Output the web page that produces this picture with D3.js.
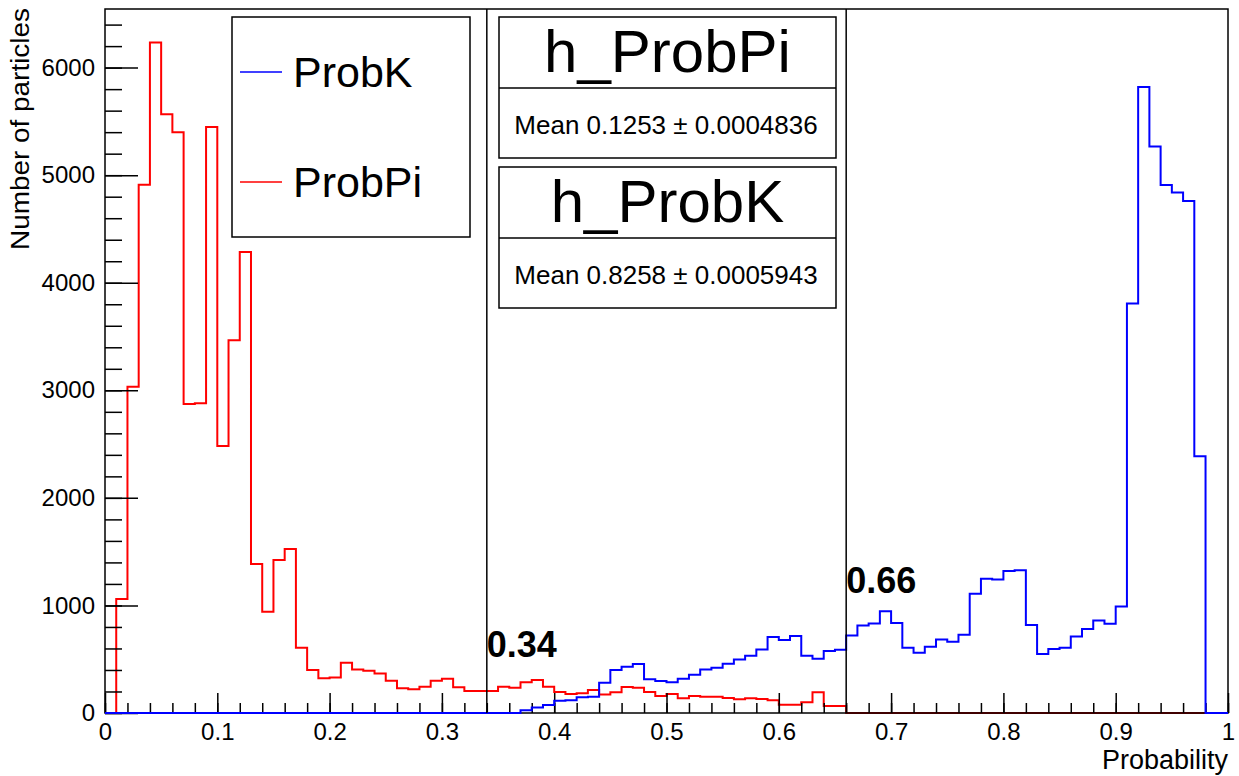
<!DOCTYPE html>
<html>
<head>
<meta charset="utf-8">
<script src="https://cdn.jsdelivr.net/npm/d3@7"></script>
<style>
  html, body { margin: 0; padding: 0; background: #fff; }
  svg { display: block; font-family: "Liberation Sans", Arial, Helvetica, sans-serif; }
</style>
</head>
<body>
<svg id="chart" width="1239" height="776"></svg>
<script>
// Histogram binning: 100 bins of width 0.01 on [0, 1]
const binLow = 0, binHigh = 1, nBins = 100;

// Bin contents of h_ProbPi (pion probability), bins 0..99
const probPi = [
  0, 1060, 3034, 4912, 6233, 5566, 5399, 2873, 2879, 5449,
  2483, 3465, 4286, 1385, 942, 1423, 1525, 607, 399, 322,
  331, 467, 405, 393, 368, 300, 229, 220, 244, 300,
  318, 239, 204, 204, 204, 244, 235, 287, 306, 244,
  195, 176, 183, 214, 173, 192, 241, 235, 195, 158,
  176, 136, 158, 152, 152, 139, 127, 136, 130, 118,
  77, 77, 99, 192, 65, 65, 0, 0, 0, 0,
  0, 0, 0, 0, 0, 0, 0, 0, 0, 0,
  0, 0, 0, 0, 0, 0, 0, 0, 0, 0,
  0, 0, 0, 0, 0, 0, 0, 0, 0, 0
];

// Bin contents of h_ProbK (kaon probability), bins 0..99
const probK = [
  0, 0, 0, 0, 0, 0, 0, 0, 0, 0,
  0, 0, 0, 0, 0, 0, 0, 0, 0, 0,
  0, 0, 0, 0, 0, 0, 0, 0, 0, 0,
  0, 0, 0, 0, 0, 0, 0, 25, 50, 74,
  115, 118, 146, 152, 282, 399, 430, 455, 313, 297,
  285, 319, 356, 405, 421, 458, 498, 532, 591, 706,
  678, 715, 532, 504, 576, 588, 721, 814, 833, 947,
  836, 606, 560, 616, 684, 662, 727, 1108, 1247, 1241,
  1321, 1328, 818, 548, 594, 606, 712, 782, 861, 829,
  990, 3807, 5821, 5266, 4909, 4838, 4760, 2386, 0, 0
];

// Legend entries and statistics boxes
const legendNames = ["ProbK", "ProbPi"];
const legendColors = ["#0000ff", "#ff0000"];
const statsNames = ["h_ProbPi", "h_ProbK"];
const statsMeans = ["0.1253", "0.8258"];
const statsErrors = ["0.0004836", "0.0005943"];

// Cut lines on the probability axis
const cutValues = [0.34, 0.66];
const cutLabels = ["0.34", "0.66"];
const cutLabelHeights = [520, 1113];

// Axis ticks
const xMajorTicks = [0, 0.1, 0.2, 0.3, 0.4, 0.5, 0.6, 0.7, 0.8, 0.9, 1];
const xTickLabels = ["0", "0.1", "0.2", "0.3", "0.4", "0.5", "0.6", "0.7", "0.8", "0.9", "1"];
const yMajorTicks = [0, 1000, 2000, 3000, 4000, 5000, 6000];
const yTickLabels = ["0", "1000", "2000", "3000", "4000", "5000", "6000"];
const yMax = 6545;

const svg = d3.select("#chart");
const frameL = 105, frameR = 1228, frameT = 9, frameB = 713;

const x = d3.scaleLinear().domain([binLow, binHigh]).range([frameL, frameR]);
const y = d3.scaleLinear().domain([0, yMax]).range([frameB, frameT]);
const binW = (binHigh - binLow) / nBins;

// Step outline of a histogram, starting and ending on the baseline
function stepPath(vals) {
  const pts = [[x(binLow), y(0)]];
  vals.forEach((v, i) => {
    const lo = binLow + i * binW, hi = lo + binW;
    pts.push([x(lo), y(v)], [x(hi), y(v)]);
  });
  pts.push([x(binHigh), y(0)]);
  return d3.line()(pts);
}

// Minor tick positions
const xMinor = d3.range(0, 51).map(i => i * 0.02);
const yMinor = d3.range(0, Math.floor(yMax / 200) + 1).map(i => i * 200);

// Pion histogram first, then the frame, then the kaon histogram on top
svg.append("path")
  .attr("d", stepPath(probPi))
  .attr("fill", "none")
  .attr("stroke", "#ff0000")
  .attr("stroke-width", 2)
  .attr("stroke-linejoin", "miter");

// X axis (ticks point into the frame)
const gx = svg.append("g").attr("transform", `translate(0,${frameB})`);
gx.append("g")
  .call(d3.axisBottom(x).tickValues(xMinor).tickSize(-10).tickFormat(""))
  .call(g => g.select(".domain").remove());
gx.append("g")
  .call(d3.axisBottom(x).tickValues(xMajorTicks).tickSize(-20).tickPadding(10)
    .tickFormat((d, i) => xTickLabels[i]))
  .call(g => g.select(".domain").remove());
gx.selectAll("line").attr("stroke", "#000").attr("stroke-width", 1.5);
gx.selectAll("text").attr("font-size", 24).attr("fill", "#000")
  .attr("font-family", "'Liberation Sans', Arial, Helvetica, sans-serif");

// Y axis
const gy = svg.append("g").attr("transform", `translate(${frameL},0)`);
gy.append("g")
  .call(d3.axisLeft(y).tickValues(yMinor).tickSize(-17).tickFormat(""))
  .call(g => g.select(".domain").remove());
gy.append("g")
  .call(d3.axisLeft(y).tickValues(yMajorTicks).tickSize(-33).tickPadding(10)
    .tickFormat((d, i) => yTickLabels[i]))
  .call(g => g.select(".domain").remove());
gy.selectAll("line").attr("stroke", "#000").attr("stroke-width", 1.5);
gy.selectAll("text").attr("font-size", 24).attr("fill", "#000")
  .attr("font-family", "'Liberation Sans', Arial, Helvetica, sans-serif");

// Frame
svg.append("rect")
  .attr("x", frameL).attr("y", frameT)
  .attr("width", frameR - frameL).attr("height", frameB - frameT)
  .attr("fill", "none").attr("stroke", "#000").attr("stroke-width", 1.5);

svg.append("path")
  .attr("d", stepPath(probK))
  .attr("fill", "none")
  .attr("stroke", "#0000ff")
  .attr("stroke-width", 2)
  .attr("stroke-linejoin", "miter");

// Cut lines and their labels
cutValues.forEach((c, i) => {
  svg.append("line")
    .attr("x1", x(c)).attr("x2", x(c))
    .attr("y1", y(0)).attr("y2", y(yMax))
    .attr("stroke", "#000").attr("stroke-width", 1.5);
  svg.append("text")
    .attr("x", x(c)).attr("y", y(cutLabelHeights[i]))
    .attr("font-size", 36).attr("font-weight", "bold")
    .text(cutLabels[i]);
});

// Axis titles
svg.append("text")
  .attr("x", frameR).attr("y", 769)
  .attr("text-anchor", "end")
  .attr("font-size", 27)
  .text("Probability");

svg.append("text")
  .attr("transform", `translate(29,8) rotate(-90)`)
  .attr("text-anchor", "end")
  .attr("font-size", 25)
  .attr("textLength", 242)
  .attr("lengthAdjust", "spacingAndGlyphs")
  .text("Number of particles");

// Legend
const lg = svg.append("g");
lg.append("rect")
  .attr("x", 232).attr("y", 17).attr("width", 238).attr("height", 220)
  .attr("fill", "#fff").attr("stroke", "#000").attr("stroke-width", 1.5);
legendNames.forEach((name, i) => {
  const cy = 72 + i * 110;
  lg.append("line")
    .attr("x1", 240).attr("x2", 282).attr("y1", cy).attr("y2", cy)
    .attr("stroke", legendColors[i]).attr("stroke-width", 1.5);
  lg.append("text")
    .attr("x", 293).attr("y", cy + 15)
    .attr("font-size", 43)
    .text(name);
});

// Statistics boxes
statsNames.forEach((name, i) => {
  const y0 = 17 + i * 150;
  const g = svg.append("g");
  g.append("rect")
    .attr("x", 499).attr("y", y0).attr("width", 337).attr("height", 141)
    .attr("fill", "#fff").attr("stroke", "#000").attr("stroke-width", 1.5);
  g.append("line")
    .attr("x1", 499).attr("x2", 836).attr("y1", y0 + 71).attr("y2", y0 + 71)
    .attr("stroke", "#000").attr("stroke-width", 1.5);
  g.append("text")
    .attr("x", 667.5).attr("y", y0 + 55)
    .attr("text-anchor", "middle")
    .attr("font-size", 60)
    .text(name);
  g.append("text")
    .attr("x", 666).attr("y", y0 + 117)
    .attr("text-anchor", "middle")
    .attr("font-size", 26)
    .text(`Mean ${statsMeans[i]} \u00b1 ${statsErrors[i]}`);
});
</script>
</body>
</html>
